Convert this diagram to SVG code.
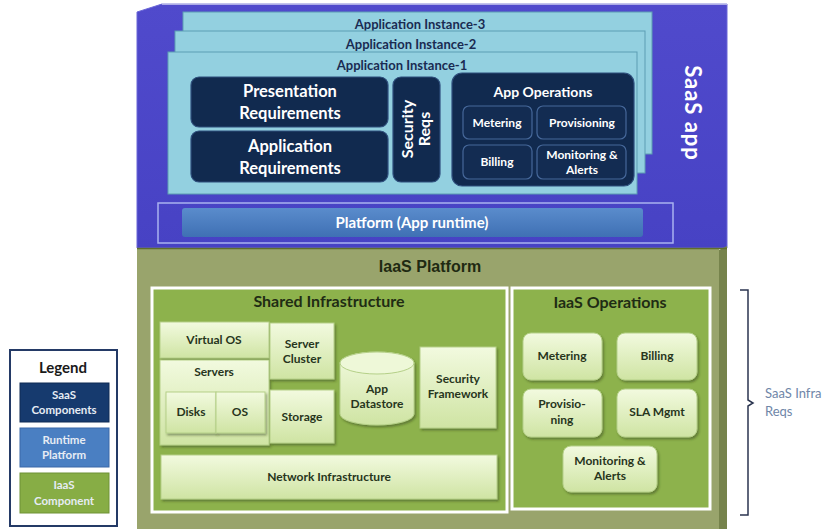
<svg xmlns="http://www.w3.org/2000/svg" width="825" height="529" viewBox="0 0 825 529">
  <defs>
    <linearGradient id="lightGreen" x1="0" y1="0" x2="0" y2="1">
      <stop offset="0" stop-color="#f2fadf"/>
      <stop offset="1" stop-color="#cfe4a3"/>
    </linearGradient>
    <linearGradient id="runtimeBlue" x1="0" y1="0" x2="0" y2="1">
      <stop offset="0" stop-color="#5a8ccc"/>
      <stop offset="1" stop-color="#3f70b4"/>
    </linearGradient>
    <linearGradient id="saasBlue" x1="0" y1="0" x2="0" y2="1">
      <stop offset="0" stop-color="#504acc"/>
      <stop offset="1" stop-color="#4742c4"/>
    </linearGradient>
    <filter id="shadow" x="-10%" y="-10%" width="130%" height="130%">
      <feDropShadow dx="1.5" dy="2" stdDeviation="1.2" flood-color="#2f3d18" flood-opacity="0.45"/>
    </filter>
  </defs>
  <style>
    .layer { fill: #93d0e0; stroke: #5d9db3; stroke-width: 1; }
    .layerText { font-family: Lato, "Open Sans", sans-serif; font-weight: bold; font-size: 13px; fill: #1a2b52; text-anchor: middle; }
    .dark { fill: #112a4f; stroke: #2f4f7d; stroke-width: 1.2; }
    .darkInner { fill: #132c52; stroke: #46689a; stroke-width: 1.2; }
    .wText { font-family: Lato, "Open Sans", sans-serif; font-weight: bold; fill: #ffffff; text-anchor: middle; }
    .light { fill: url(#lightGreen); stroke: #b5d088; stroke-width: 1; filter: url(#shadow); }
    .gText { font-family: Lato, "Open Sans", sans-serif; font-weight: bold; font-size: 12px; fill: #27351c; text-anchor: middle; }
    .panel { fill: #8db24c; stroke: #ffffff; stroke-width: 3; }
    .title { font-family: Lato, "Open Sans", sans-serif; font-weight: bold; font-size: 16px; fill: #1f2c14; text-anchor: middle; }
    .legendText { font-family: Lato, "Open Sans", sans-serif; font-weight: bold; font-size: 11.5px; fill: #e6ecf4; text-anchor: middle; }
  </style>

  <rect x="0" y="0" width="825" height="529" fill="#ffffff"/>

  <!-- SaaS application tier -->
  <g id="saas-app">
    <polygon points="137,12 162,4 727,4 727,248 137,248" fill="url(#saasBlue)" stroke="#6a66d8" stroke-width="1"/>
    <line x1="162" y1="4" x2="727" y2="4" stroke="#c9c8ee" stroke-width="1.5"/>
    <text class="wText" font-size="22" letter-spacing="1" transform="translate(692,113) rotate(90)" x="0" y="7">SaaS app</text>
  </g>

  <!-- stacked application instances -->
  <g id="instance-3">
    <rect class="layer" x="183" y="12" width="469" height="142"/>
    <text class="layerText" x="420" y="29">Application Instance-3</text>
  </g>
  <g id="instance-2">
    <rect class="layer" x="175" y="31" width="470" height="142"/>
    <text class="layerText" x="411" y="49">Application Instance-2</text>
  </g>
  <g id="instance-1">
    <rect class="layer" x="168" y="52" width="469" height="142"/>
    <text class="layerText" x="402" y="70">Application Instance-1</text>
  </g>

  <g id="presentation-req">
    <rect class="dark" x="191" y="77" width="197" height="50" rx="8"/>
    <text class="wText" font-size="16.5" x="290" y="97">Presentation</text>
    <text class="wText" font-size="16.5" x="290" y="119">Requirements</text>
  </g>
  <g id="application-req">
    <rect class="dark" x="191" y="131" width="197" height="51" rx="8"/>
    <text class="wText" font-size="16.5" x="290" y="152">Application</text>
    <text class="wText" font-size="16.5" x="290" y="174">Requirements</text>
  </g>
  <g id="security-reqs">
    <rect class="dark" x="393" y="77" width="47" height="105" rx="8"/>
    <g transform="translate(416,129) rotate(-90)">
      <text class="wText" font-size="16" x="0" y="-3">Security</text>
      <text class="wText" font-size="16" x="0" y="14">Reqs</text>
    </g>
  </g>
  <g id="app-operations">
    <rect class="dark" x="452" y="73" width="182" height="113" rx="10"/>
    <text class="wText" font-size="14" x="543" y="97">App Operations</text>
  </g>
  <g id="app-metering">
    <rect class="darkInner" x="463" y="106" width="69" height="33" rx="6"/>
    <text class="wText" font-size="12" x="497" y="127">Metering</text>
  </g>
  <g id="app-provisioning">
    <rect class="darkInner" x="537" y="106" width="89" height="33" rx="6"/>
    <text class="wText" font-size="12" x="582" y="127">Provisioning</text>
  </g>
  <g id="app-billing">
    <rect class="darkInner" x="463" y="145" width="69" height="34" rx="6"/>
    <text class="wText" font-size="12" x="497" y="166">Billing</text>
  </g>
  <g id="app-monitoring">
    <rect class="darkInner" x="537" y="145" width="89" height="34" rx="6"/>
    <text class="wText" font-size="12" x="582" y="159">Monitoring &amp;</text>
    <text class="wText" font-size="12" x="582" y="174">Alerts</text>
  </g>

  <g id="platform-runtime">
    <rect x="158" y="203" width="515" height="40" fill="none" stroke="#a9b2f0" stroke-width="1.5"/>
    <rect x="182" y="208" width="461" height="29" rx="3" fill="url(#runtimeBlue)"/>
    <text class="wText" font-size="15" x="412" y="228">Platform (App runtime)</text>
  </g>

  <!-- IaaS platform tier -->
  <g id="iaas-platform">
    <polygon points="719,250 727,246 727,529 719,529" fill="#76834c"/>
    <rect x="137" y="248" width="582" height="281" fill="#99a46c"/>
    <line x1="137" y1="248.5" x2="727" y2="248.5" stroke="#5f6e2c" stroke-width="1.5"/>
    <text x="430" y="272" font-family="'Liberation Sans', Arial, sans-serif" font-weight="bold" font-size="16" fill="#1f2a12" text-anchor="middle">IaaS Platform</text>
  </g>

  <g id="shared-infrastructure">
    <rect class="panel" x="152" y="288" width="355" height="224"/>
    <text class="title" x="329" y="307">Shared Infrastructure</text>
  </g>
  <g id="virtual-os">
    <rect class="light" x="160" y="322" width="109" height="36"/>
    <text class="gText" x="214" y="344">Virtual OS</text>
  </g>
  <g id="servers">
    <rect class="light" x="160" y="360" width="109" height="85"/>
    <text class="gText" x="214" y="376">Servers</text>
  </g>
  <g id="disks">
    <rect class="light" x="166" y="392" width="50" height="41"/>
    <text class="gText" x="191" y="416">Disks</text>
  </g>
  <g id="os">
    <rect class="light" x="216" y="392" width="49" height="41"/>
    <text class="gText" x="240" y="416">OS</text>
  </g>
  <g id="server-cluster">
    <rect class="light" x="270" y="323" width="64" height="56"/>
    <text class="gText" x="302" y="348">Server</text>
    <text class="gText" x="302" y="363">Cluster</text>
  </g>
  <g id="storage">
    <rect class="light" x="270" y="390" width="64" height="53"/>
    <text class="gText" x="302" y="421">Storage</text>
  </g>
  <g id="app-datastore">
    <path class="light" d="M340,363 A37,11 0 0 1 414,363 V414 A37,11 0 0 1 340,414 Z"/>
    <ellipse cx="377" cy="363" rx="37" ry="11" fill="#eef8d8" stroke="#b5d088" stroke-width="1"/>
    <text class="gText" x="377" y="393">App</text>
    <text class="gText" x="377" y="408">Datastore</text>
  </g>
  <g id="security-framework">
    <rect class="light" x="420" y="347" width="76" height="81"/>
    <text class="gText" x="458" y="383">Security</text>
    <text class="gText" x="458" y="398">Framework</text>
  </g>
  <g id="network-infrastructure">
    <rect class="light" x="161" y="455" width="336" height="44"/>
    <text class="gText" x="329" y="481">Network Infrastructure</text>
  </g>

  <g id="iaas-operations">
    <rect class="panel" x="512" y="288" width="198" height="221"/>
    <text class="title" x="610" y="308">IaaS Operations</text>
  </g>
  <g id="iaas-metering">
    <rect class="light" x="523" y="333" width="79" height="47" rx="8"/>
    <text class="gText" x="562" y="360">Metering</text>
  </g>
  <g id="iaas-billing">
    <rect class="light" x="617" y="333" width="80" height="47" rx="8"/>
    <text class="gText" x="657" y="360">Billing</text>
  </g>
  <g id="iaas-provisioning">
    <rect class="light" x="523" y="389" width="79" height="48" rx="8"/>
    <text class="gText" x="562" y="408">Provisio-</text>
    <text class="gText" x="562" y="424">ning</text>
  </g>
  <g id="sla-mgmt">
    <rect class="light" x="617" y="389" width="80" height="48" rx="8"/>
    <text class="gText" x="657" y="416">SLA Mgmt</text>
  </g>
  <g id="iaas-monitoring">
    <rect class="light" x="563" y="446" width="94" height="46" rx="8"/>
    <text class="gText" x="610" y="465">Monitoring &amp;</text>
    <text class="gText" x="610" y="480">Alerts</text>
  </g>

  <!-- brace spanning the IaaS tier -->
  <g id="connectors">
    <path d="M740,290 H748 V400 L753,403 L748,406 V515 H740" fill="none" stroke="#2b3550" stroke-width="1.5"/>
  </g>
  <g id="saas-infra-reqs">
    <text x="765" y="398" font-family="Lato, 'Open Sans', sans-serif" font-size="13" fill="#6f86a8">SaaS Infra</text>
    <text x="765" y="416" font-family="Lato, 'Open Sans', sans-serif" font-size="13" fill="#6f86a8">Reqs</text>
  </g>

  <!-- legend -->
  <g id="legend">
    <rect x="10" y="350" width="107" height="176" fill="#ffffff" stroke="#243a66" stroke-width="2"/>
    <text x="63" y="373" font-family="Lato, 'Open Sans', sans-serif" font-weight="bold" font-size="15" fill="#1a1a1a" text-anchor="middle">Legend</text>
    <rect x="20" y="383" width="89" height="39" fill="#163a6e" stroke="#0e2a55" stroke-width="1"/>
    <text class="legendText" x="64" y="399">SaaS</text>
    <text class="legendText" x="64" y="414">Components</text>
    <rect x="20" y="428" width="89" height="39" fill="#4a7fc2" stroke="#3a68a8" stroke-width="1"/>
    <text class="legendText" x="64" y="444">Runtime</text>
    <text class="legendText" x="64" y="459">Platform</text>
    <rect x="20" y="473" width="89" height="40" fill="#87ad45" stroke="#6f9236" stroke-width="1"/>
    <text class="legendText" x="64" y="489">IaaS</text>
    <text class="legendText" x="64" y="505">Component</text>
  </g>
</svg>
